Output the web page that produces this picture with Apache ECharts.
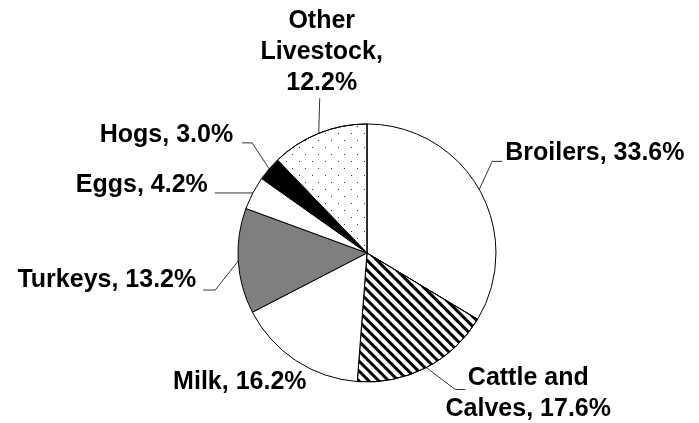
<!DOCTYPE html>
<html>
<head>
<meta charset="utf-8">
<script src="https://cdn.jsdelivr.net/npm/echarts@6/dist/echarts.min.js"></script>
<style>
  html, body { margin: 0; padding: 0; background: #fff; }
  #chart { width: 699px; height: 423px; }
</style>
</head>
<body>
<div id="chart"></div>
<script>
// data
const categories = ['Broilers', 'Cattle and\nCalves', 'Milk', 'Turkeys', 'Eggs', 'Hogs', 'Other\nLivestock'];
const shares = [33.6, 17.6, 16.2, 13.2, 4.2, 3.0, 12.2];
const labelSeparators = [', ', ', ', ', ', ', ', ', ', ', ', ',\n'];

// look of each slice
const fills = ['#ffffff', '#ffffff', '#ffffff', '#7f7f7f', '#ffffff', '#000000', '#ffffff'];
const stripes = {
  symbol: 'rect', symbolSize: 1, color: '#000',
  dashArrayX: [1, 0], dashArrayY: [3, 4], rotation: Math.PI / 4
};
const dots = {
  symbol: 'rect', symbolSize: 1, color: '#333',
  dashArrayX: [[1, 12], [0, 6, 1, 6]], dashArrayY: [1, 6]
};
const decals = [null, stripes, null, null, null, null, dots];

// label guide: bend from slice edge, horizontal tail, then label shift
const guideBend = [[13, -28], [29, 22], null, [-23, 29], [-10, 0], [-17, -26], [1, -35]];
const guideTail = [10, 10, 0, -12, -28, -10, 0];
const labelShift = [[3, -8], [63, 4], [-56, 22], [-7, -10], [-7, -8], [-9, -8], [2, -46]];
const labelAlign = ['left', 'center', 'center', 'right', 'right', 'right', 'center'];

const chart = echarts.init(document.getElementById('chart'));

const seriesData = categories.map((name, i) => {
  const item = { name: name, value: shares[i], itemStyle: { color: fills[i] } };
  if (decals[i]) item.itemStyle.decal = decals[i];
  return item;
});

chart.setOption({
  animation: false,
  series: [{
    type: 'pie',
    center: ['52.5%', '59.8%'],
    radius: 129,
    startAngle: 90,
    clockwise: true,
    avoidLabelOverlap: false,
    data: seriesData,
    itemStyle: { borderColor: '#000', borderWidth: 1 },
    emphasis: { disabled: true },
    label: {
      show: true,
      position: 'outside',
      fontFamily: 'Liberation Sans, Arial, sans-serif',
      fontWeight: 'bold',
      fontSize: 25,
      lineHeight: 31,
      color: '#000',
      formatter: p => p.name + labelSeparators[p.dataIndex] + p.value.toFixed(1) + '%'
    },
    labelLine: {
      show: true,
      length: 20,
      length2: 10,
      lineStyle: { color: '#333', width: 1 }
    },
    labelLayout: function (p) {
      const i = p.dataIndex;
      const pts = p.labelLinePoints;
      const e = [pts[0][0], pts[0][1]];
      let b = e, t = e;
      if (guideBend[i]) {
        b = [e[0] + guideBend[i][0], e[1] + guideBend[i][1]];
        t = [b[0] + guideTail[i], b[1]];
      }
      return {
        x: t[0] + labelShift[i][0],
        y: t[1] + labelShift[i][1],
        align: labelAlign[i],
        verticalAlign: 'middle',
        labelLinePoints: [e, b, t]
      };
    }
  }]
});
</script>
</body>
</html>
